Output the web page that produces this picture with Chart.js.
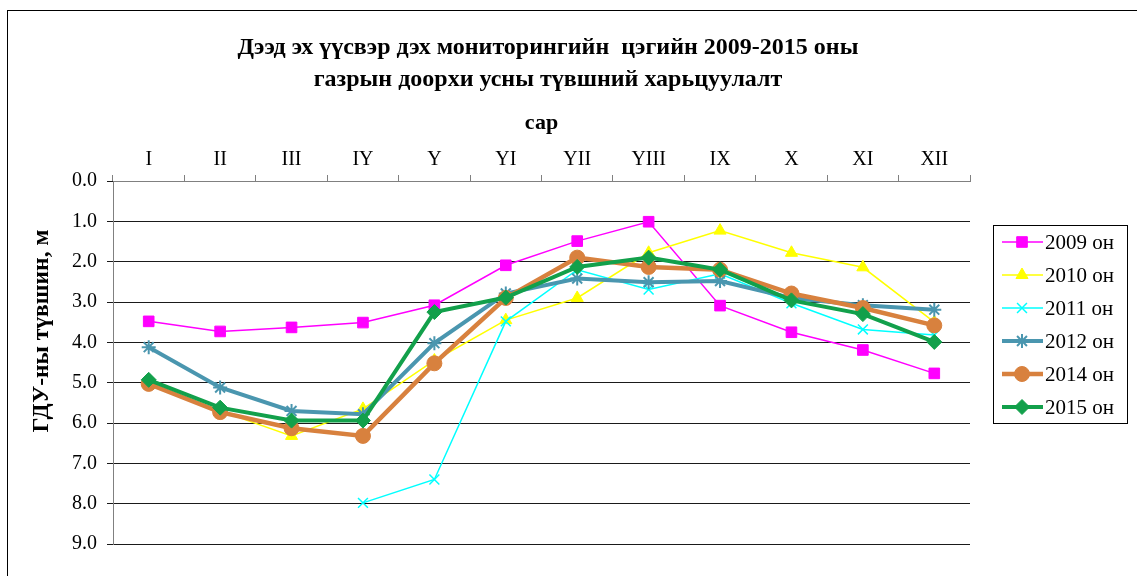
<!DOCTYPE html>
<html lang="mn">
<head>
    <meta charset="UTF-8">
    <title>Газрын доорхи усны түвшин</title>
    <script src="https://cdn.jsdelivr.net/npm/chart.js"></script>
    <style>
        body { margin: 0; background: #fff; overflow: hidden; }
        #frame { position: absolute; left: 7px; top: 10px; width: 1200px; height: 700px;
                 border-top: 1px solid #000; border-left: 1px solid #000; }
        #wrap { position: absolute; left: 0; top: 0; width: 1137px; height: 576px; }
    </style>
</head>
<body>
<div id="frame"></div>
<div id="wrap"><canvas id="levelChart"></canvas></div>

<script>
    const months = ['I', 'II', 'III', 'IY', 'Y', 'YI', 'YII', 'YIII', 'IX', 'X', 'XI', 'XII'];
    const yTicks = [0, 1, 2, 3, 4, 5, 6, 7, 8, 9];

    const y2009 = [3.48, 3.73, 3.63, 3.51, 3.08, 2.09, 1.49, 1.01, 3.09, 3.75, 4.19, 4.77];
    const y2010 = [5.0, 5.7, 6.32, 5.65, 4.45, 3.45, 2.9, 1.78, 1.23, 1.78, 2.14, 3.5];
    const y2011 = [null, null, null, 7.98, 7.4, 3.48, 2.2, 2.69, 2.3, 3.03, 3.68, 3.82];
    const y2012 = [4.12, 5.12, 5.7, 5.78, 4.02, 2.79, 2.42, 2.51, 2.48, 2.9, 3.08, 3.19];
    const y2014 = [5.03, 5.73, 6.13, 6.32, 4.52, 2.9, 1.9, 2.13, 2.2, 2.79, 3.15, 3.58];
    const y2015 = [4.93, 5.62, 5.94, 5.94, 3.25, 2.89, 2.13, 1.9, 2.2, 2.96, 3.3, 3.99];

    const seriesNames = ['2009 он', '2010 он', '2011 он', '2012 он', '2014 он', '2015 он'];
    const seriesData = [y2009, y2010, y2011, y2012, y2014, y2015];
    const seriesColors = ['#FF00FF', '#FFFF00', '#00FFFF', '#4A96AF', '#D8813E', '#12A04B'];
    const lineWidths = [1.5, 1.5, 1.5, 4, 4.5, 4];
    const markers = ['rect', 'triangle', 'crossRot', 'star', 'circle', 'rectRot'];
    const markerSizes = [7.5, 7, 7, 7, 7.5, 7.5];
    const markerBorders = [1, 1, 1.5, 2, 1, 1];

    const titleLines = ['Дээд эх үүсвэр дэх мониторингийн  цэгийн 2009-2015 оны',
                        'газрын доорхи усны түвшний харьцуулалт'];

    const serif = "'Liberation Serif', 'Times New Roman', serif";

    const datasets = seriesNames.map((name, i) => ({
        label: name,
        data: seriesData[i],
        borderColor: seriesColors[i],
        backgroundColor: seriesColors[i],
        borderWidth: lineWidths[i],
        pointStyle: markers[i],
        pointRadius: markerSizes[i],
        pointBorderWidth: markerBorders[i],
        pointBorderColor: seriesColors[i],
        pointBackgroundColor: seriesColors[i],
        tension: 0,
        spanGaps: false,
        order: seriesNames.length - i
    }));

    // chart title, y-axis title and boxed legend (line + marker samples)
    const extras = {
        id: 'extras',
        afterDraw(chart) {
            const ctx = chart.ctx;
            ctx.save();
            ctx.fillStyle = '#000';
            ctx.font = 'bold 24px ' + serif;
            ctx.textAlign = 'center';
            ctx.textBaseline = 'middle';
            ctx.fillText(titleLines[0], 548, 48);
            ctx.fillText(titleLines[1], 548, 80);

            ctx.font = 'bold 23.5px ' + serif;
            ctx.translate(42, 331);
            ctx.rotate(-Math.PI / 2);
            ctx.fillText('ГДУ-ны түвшин, м', 0, 0);
            ctx.restore();

            ctx.save();
            ctx.strokeStyle = '#000';
            ctx.lineWidth = 1;
            ctx.strokeRect(993.5, 225.5, 134, 198);
            seriesNames.forEach((name, i) => {
                const y = 242 + i * 33;
                ctx.strokeStyle = seriesColors[i];
                ctx.fillStyle = seriesColors[i];
                ctx.lineWidth = lineWidths[i];
                ctx.beginPath();
                ctx.moveTo(1002, y);
                ctx.lineTo(1043, y);
                ctx.stroke();
                ctx.lineWidth = markerBorders[i];
                Chart.helpers.drawPoint(ctx, {
                    pointStyle: markers[i],
                    radius: markerSizes[i],
                    borderWidth: markerBorders[i],
                    rotation: 0
                }, 1022, y);
                ctx.fillStyle = '#000';
                ctx.font = '21px ' + serif;
                ctx.textAlign = 'left';
                ctx.textBaseline = 'middle';
                ctx.fillText(name, 1045, y + 1);
            });
            ctx.restore();
        }
    };

    new Chart(document.getElementById('levelChart'), {
        type: 'line',
        data: { labels: months, datasets: datasets },
        plugins: [extras],
        options: {
            responsive: true,
            maintainAspectRatio: false,
            animation: false,
            layout: { padding: { left: 0, right: 167, top: 96, bottom: 32 } },
            plugins: {
                legend: { display: false },
                tooltip: { enabled: false },
                title: { display: false }
            },
            scales: {
                x: {
                    position: 'top',
                    offset: true,
                    grid: { offset: true, drawOnChartArea: false, tickLength: 6, color: '#808080' },
                    border: { color: '#808080' },
                    ticks: { color: '#000', font: { family: serif, size: 20 }, padding: 3, maxRotation: 0 },
                    title: {
                        display: true, text: 'сар', color: '#000',
                        font: { family: serif, size: 22, weight: 'bold' },
                        padding: { top: 14, bottom: 0 }
                    },
                    afterFit(scale) { scale.height = 181 - 96; }
                },
                y: {
                    reverse: true,
                    min: yTicks[0],
                    max: yTicks[yTicks.length - 1],
                    afterBuildTicks(scale) { scale.ticks = yTicks.map(v => ({ value: v })); },
                    grid: { color: '#1a1a1a', tickLength: 6, lineWidth: 1 },
                    border: { color: '#808080' },
                    ticks: {
                        color: '#000', padding: 10,
                        font: { family: serif, size: 20 },
                        callback: v => Number(v).toFixed(1)
                    },
                    afterFit(scale) { scale.width = 113; }
                }
            }
        }
    });
</script>
</body>
</html>
